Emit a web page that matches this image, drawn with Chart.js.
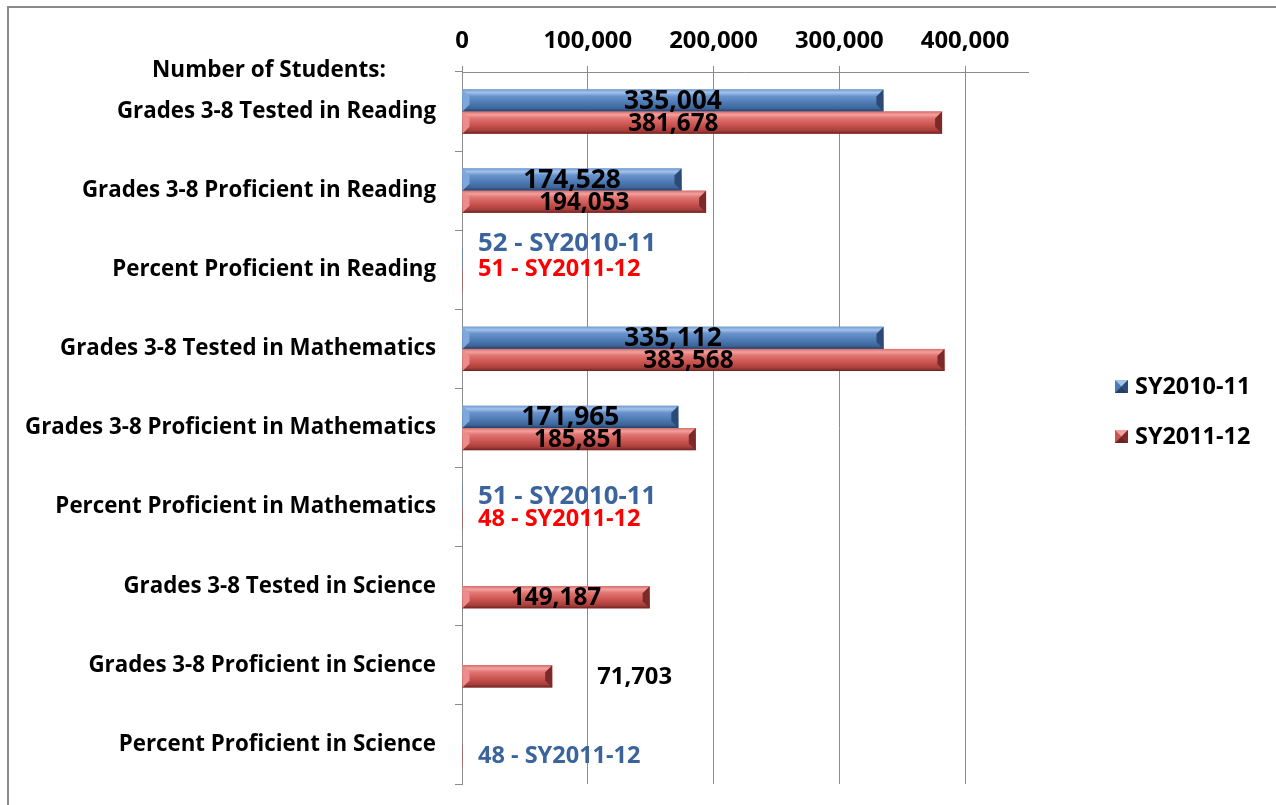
<!DOCTYPE html>
<html>
<head>
<meta charset="utf-8">
<script src="https://cdn.jsdelivr.net/npm/chart.js@4.4.1/dist/chart.umd.min.js"></script>
<style>
  html, body { margin: 0; padding: 0; background: #fff; }
  #wrap { position: relative; width: 1276px; height: 805px; }
</style>
</head>
<body>
<div id="wrap"><canvas id="chart" width="1276" height="805"></canvas></div>
<script>
// Données
const categories = [
  'Grades 3-8 Tested in Reading',
  'Grades 3-8 Proficient in Reading',
  'Percent Proficient in Reading',
  'Grades 3-8 Tested in Mathematics',
  'Grades 3-8 Proficient in Mathematics',
  'Percent Proficient in Mathematics',
  'Grades 3-8 Tested in Science',
  'Grades 3-8 Proficient in Science',
  'Percent Proficient in Science'
];
const seriesNames = ['SY2010-11', 'SY2011-12'];
const sy2010 = [335004, 174528, 52, 335112, 171965, 51, null, null, null];
const sy2011 = [381678, 194053, 51, 383568, 185851, 48, 149187, 71703, 48];
const xTicks = [0, 100000, 200000, 300000, 400000];
const xMax = 450000;
const percentRows = [2, 5, 8];
const headerText = 'Number of Students:';

const FONT = "'Open Sans', sans-serif";
const GRID = '#8c8c8c';

// Teintes du biseau
const bevel = [
  { stops: ['#6f9bd2', '#a3c2ea', '#6a93cd', '#4e7bb4', '#3d6599', '#243f66'], right: '#2b4a76', left: '#7ea7db' },
  { stops: ['#d76e6b', '#f3a19f', '#e07572', '#cb5450', '#a83e3b', '#6c2422'], right: '#7a2a28', left: '#ea8d8b' }
];

const framePlugin = {
  id: 'frame',
  beforeDraw(chart) {
    const ctx = chart.ctx;
    ctx.save();
    ctx.fillStyle = '#fff';
    ctx.fillRect(0, 0, chart.width, chart.height);
    ctx.strokeStyle = '#8a8a8a';
    ctx.lineWidth = 2;
    ctx.beginPath();
    ctx.moveTo(8, chart.height + 5);
    ctx.lineTo(8, 7);
    ctx.lineTo(chart.width + 5, 7);
    ctx.stroke();
    ctx.restore();
  }
};

const bevelPlugin = {
  id: 'bevel',
  afterDatasetsDraw(chart) {
    const ctx = chart.ctx;
    ctx.save();
    chart.data.datasets.forEach((ds, di) => {
      const meta = chart.getDatasetMeta(di);
      const b = bevel[di];
      meta.data.forEach((bar, i) => {
        if (ds.data[i] == null) return;
        const x0 = Math.min(bar.base, bar.x), x1 = Math.max(bar.base, bar.x);
        if (x1 - x0 < 2) return;
        const y0 = bar.y - bar.height / 2, y1 = bar.y + bar.height / 2;
        const g = ctx.createLinearGradient(0, y0, 0, y1);
        const pos = [0, 0.14, 0.3, 0.6, 0.86, 1];
        b.stops.forEach((c, k) => g.addColorStop(pos[k], c));
        ctx.fillStyle = g;
        ctx.fillRect(x0, y0, x1 - x0, y1 - y0);
        const e = 7;
        ctx.fillStyle = b.right;
        ctx.beginPath();
        ctx.moveTo(x1, y0); ctx.lineTo(x1, y1); ctx.lineTo(x1 - e, y1 - e); ctx.lineTo(x1 - e, y0 + e);
        ctx.closePath(); ctx.fill();
        ctx.fillStyle = b.left;
        ctx.beginPath();
        ctx.moveTo(x0, y0); ctx.lineTo(x0, y1); ctx.lineTo(x0 + e, y1 - e); ctx.lineTo(x0 + e, y0 + e);
        ctx.closePath(); ctx.fill();
      });
    });
    ctx.restore();
  }
};

const labelPlugin = {
  id: 'barLabels',
  afterDatasetsDraw(chart) {
    const ctx = chart.ctx;
    const area = chart.chartArea;
    const xs = chart.scales.x;
    ctx.save();
    ctx.textBaseline = 'middle';
    chart.data.datasets.forEach((ds, di) => {
      const meta = chart.getDatasetMeta(di);
      meta.data.forEach((bar, i) => {
        const v = ds.data[i];
        if (v == null) return;
        let text = v.toLocaleString('en-US');
        let x = (bar.x + bar.base) / 2, y = bar.y;
        let align = 'center';
        let color = '#000';
        let size = di === 0 ? 26.3 : 24.3;
        if (percentRows.includes(i)) {
          text = v + ' - ' + seriesNames[di];
          x = area.left + 16;
          align = 'left';
          size = di === 0 ? 25.8 : 23.5;
          color = (di === 0 || i === 8) ? '#3c649c' : '#ff0000';
          if (i === 2) y -= (di === 0 ? 16 : 13);
        } else if (di === 1 && i === 0) {
          x -= 29;
        } else if (di === 1 && i === 3) {
          x -= 15;
        } else if (di === 1 && i === 7) {
          x = xs.getPixelForValue(v) + 45;
          align = 'left';
          size = 23.8;
        }
        ctx.font = `bold ${size}px ${FONT}`;
        ctx.fillStyle = color;
        ctx.textAlign = align;
        ctx.fillText(text, x, y + 1);
      });
    });
    ctx.restore();
  }
};

const extrasPlugin = {
  id: 'extras',
  afterDraw(chart) {
    const ctx = chart.ctx;
    ctx.save();
    ctx.fillStyle = '#000';
    ctx.textBaseline = 'middle';
    ctx.font = `bold 22.5px ${FONT}`;
    ctx.textAlign = 'center';
    ctx.fillText(headerText, 269, 71);
    // légende
    const lx = 1115, ly = [386, 436];
    seriesNames.forEach((name, k) => {
      const y = ly[k], s = 13, x = lx, t = y - 6;
      const b = bevel[k];
      ctx.fillStyle = b.stops[3];
      ctx.fillRect(x, t, s, s);
      ctx.fillStyle = b.stops[1];
      ctx.beginPath(); ctx.moveTo(x, t); ctx.lineTo(x + s, t); ctx.lineTo(x + s / 2, t + s / 2); ctx.closePath(); ctx.fill();
      ctx.fillStyle = b.right;
      ctx.beginPath(); ctx.moveTo(x + s, t); ctx.lineTo(x + s, t + s); ctx.lineTo(x + s / 2, t + s / 2); ctx.closePath(); ctx.fill();
      ctx.fillStyle = b.stops[5];
      ctx.beginPath(); ctx.moveTo(x, t + s); ctx.lineTo(x + s, t + s); ctx.lineTo(x + s / 2, t + s / 2); ctx.closePath(); ctx.fill();
      ctx.fillStyle = '#000';
      ctx.textAlign = 'left';
      ctx.font = `bold 23.4px ${FONT}`;
      ctx.fillText(name, 1135, y + 1);
    });
    ctx.restore();
  }
};

new Chart(document.getElementById('chart'), {
  type: 'bar',
  data: {
    labels: categories,
    datasets: [
      { label: seriesNames[0], data: sy2010, backgroundColor: '#4f81bd' },
      { label: seriesNames[1], data: sy2011, backgroundColor: '#c0504d' }
    ]
  },
  options: {
    indexAxis: 'y',
    responsive: false,
    animation: false,
    categoryPercentage: 0.56,
    barPercentage: 1.0,
    layout: { padding: { left: 0, top: 0, right: 248, bottom: 21 } },
    scales: {
      x: {
        position: 'top',
        min: 0,
        max: xMax,
        afterBuildTicks: s => { s.ticks = xTicks.map(v => ({ value: v })); },
        grid: { color: GRID, tickLength: 6 },
        border: { color: GRID },
        ticks: {
          color: '#000',
          padding: 10,
          font: { family: FONT, size: 23.9, weight: 'bold' },
          callback: v => v.toLocaleString('en-US')
        },
        afterFit: s => { s.height = 72; s.paddingLeft = 0; s.paddingRight = 0; }
      },
      y: {
        grid: { drawOnChartArea: false, tickLength: 7, color: GRID, offset: true },
        border: { color: GRID },
        ticks: {
          color: '#000',
          padding: 19,
          autoSkip: false,
          font: { family: FONT, size: 22.3, weight: 'bold' }
        },
        afterFit: s => { s.width = 462; s.paddingTop = 0; s.paddingBottom = 0; }
      }
    },
    plugins: {
      legend: { display: false },
      tooltip: { enabled: false }
    }
  },
  plugins: [framePlugin, bevelPlugin, labelPlugin, extrasPlugin]
});
</script>
</body>
</html>
